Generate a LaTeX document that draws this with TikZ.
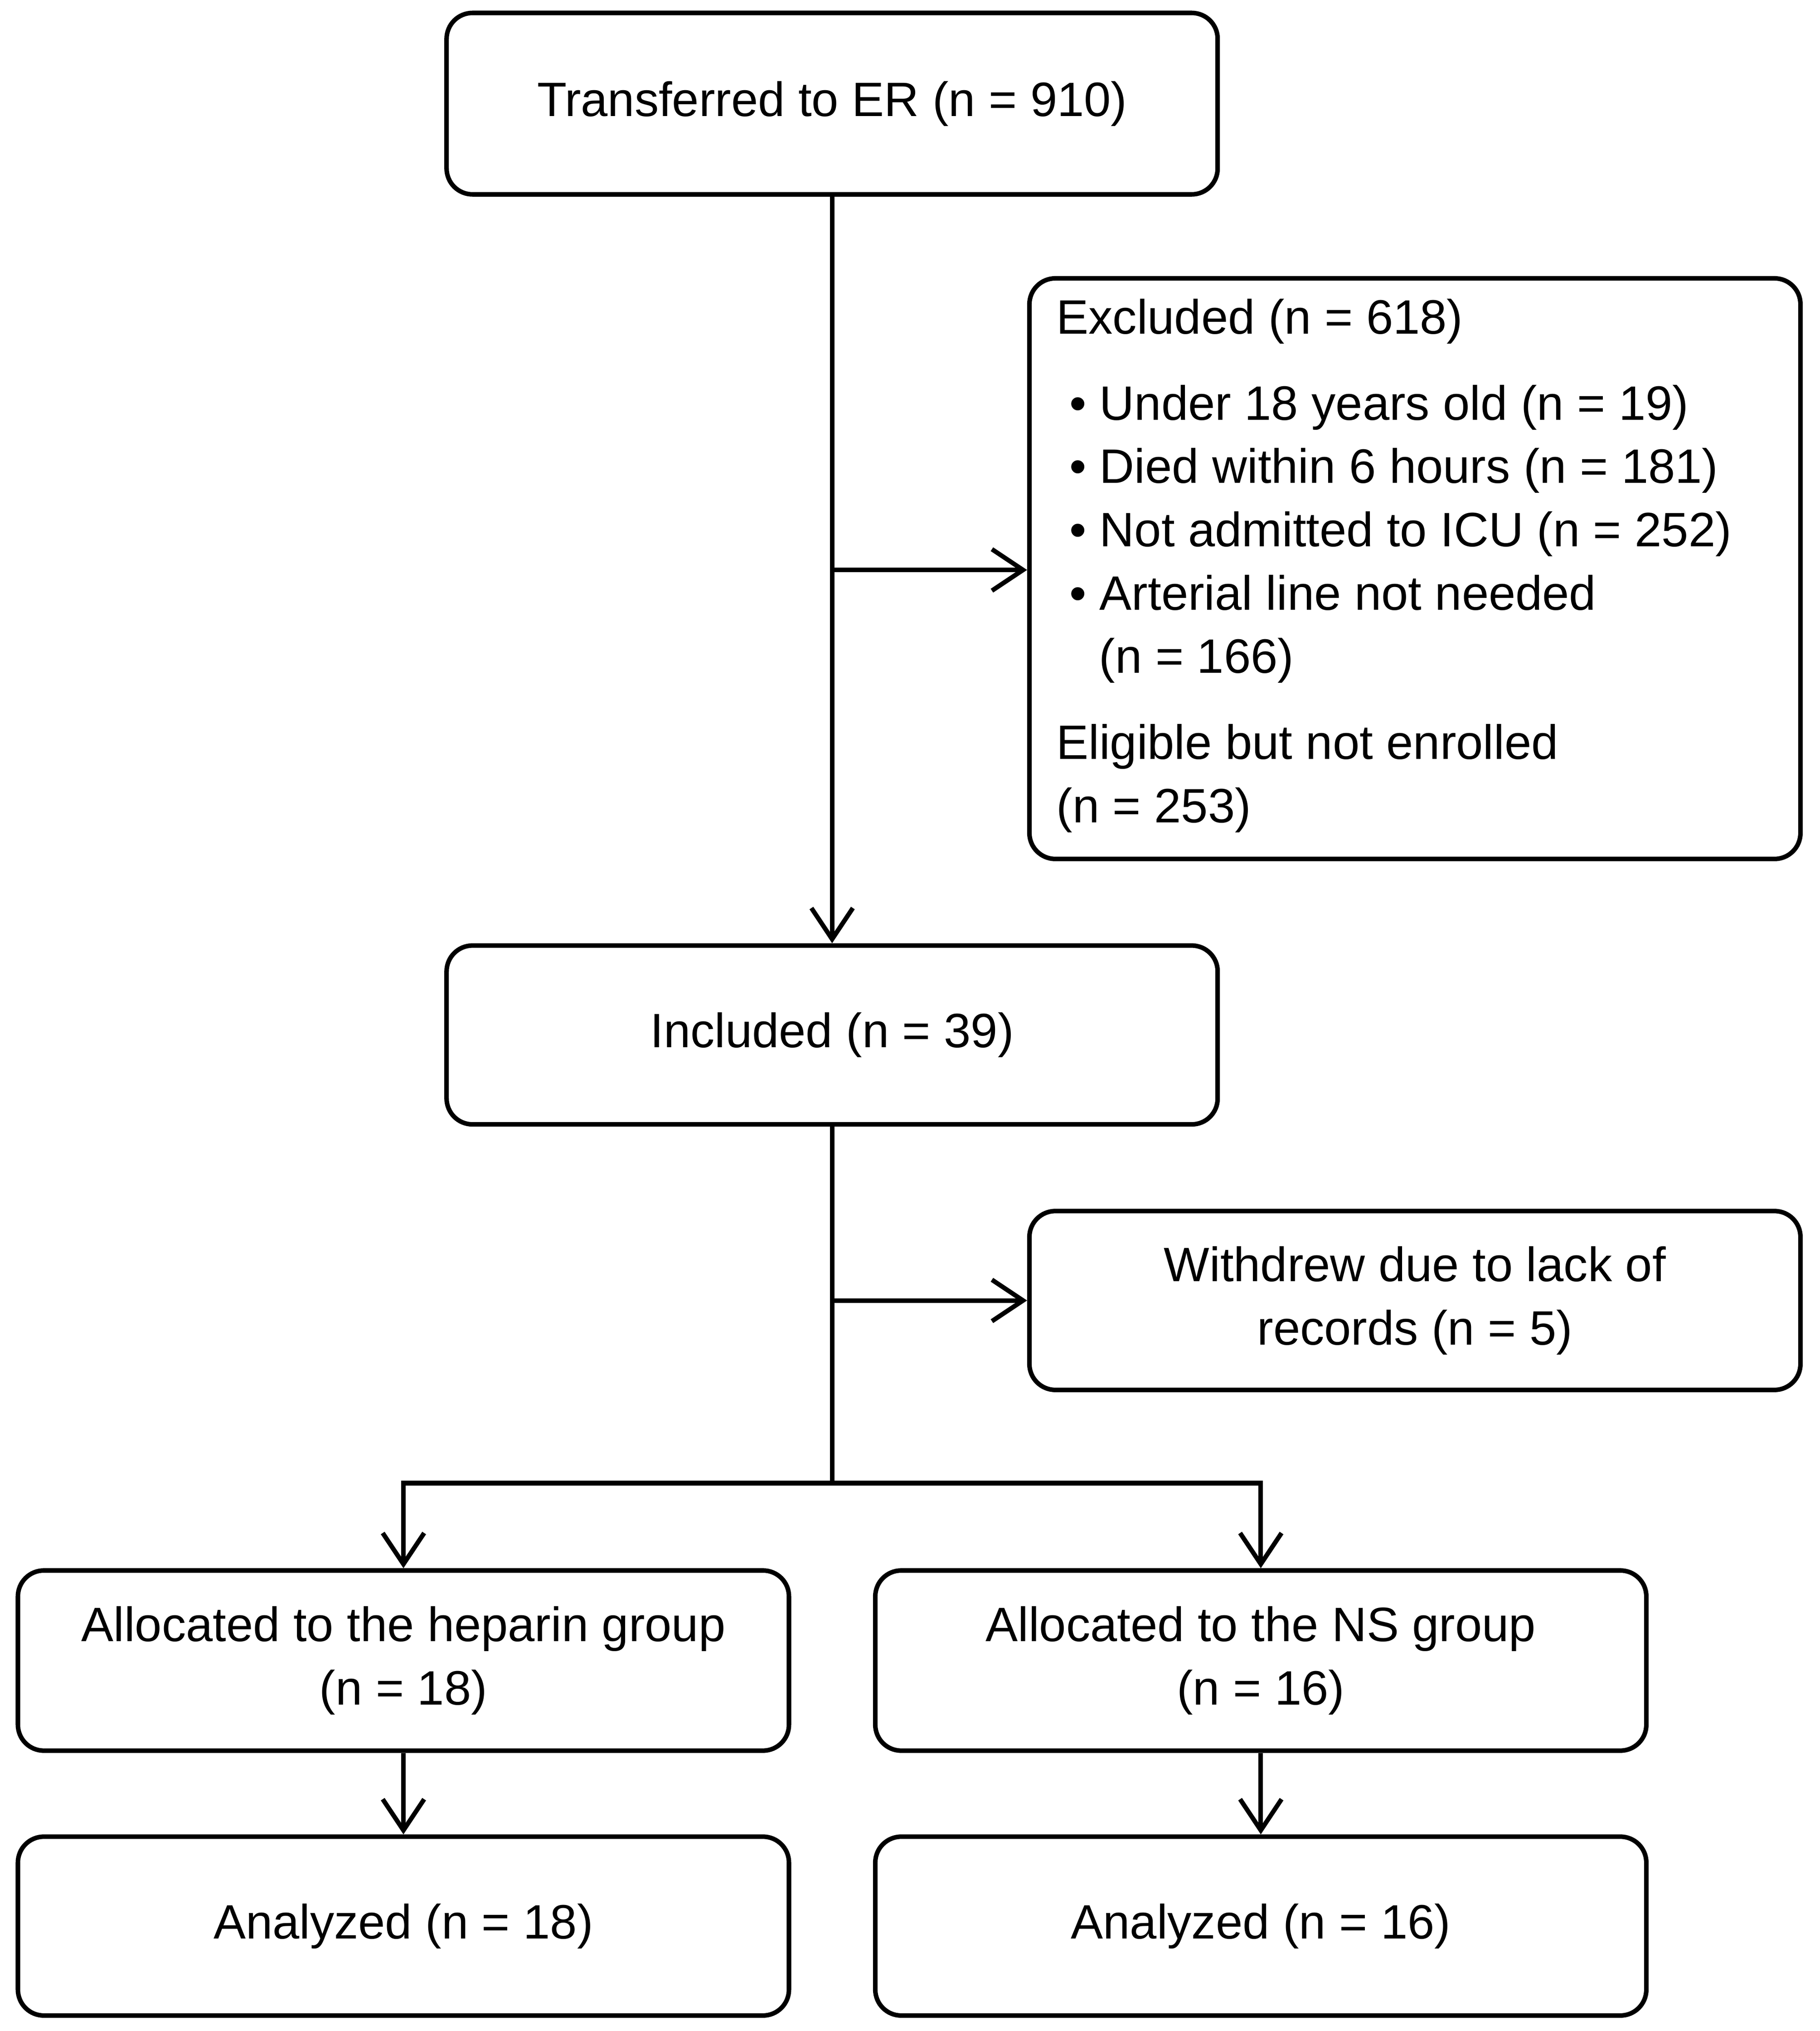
\documentclass[tikz,border=0pt]{standalone}
\usepackage{fontspec}
\setmainfont{Liberation Sans}
\usetikzlibrary{positioning,arrows.meta}

\begin{document}
\begin{tikzpicture}[x=0.01cm,y=-0.01cm,
    every node/.style={font=\fontsize{10.6}{13.9}\selectfont},
    flowbox/.style={draw,line width=1pt,rounded corners=0.2cm,minimum width=5.95cm,align=center,inner sep=0pt},
    link/.style={line width=1pt,-{Straight Barb[length=2.4mm,width=3.2mm]}}]
    \useasboundingbox (0,0) rectangle (1405,1568);

    % Main column
    \node[flowbox,minimum height=1.4cm] (er) at (642.5,80) {Transferred to ER (n = 910)};
    \node[flowbox,minimum height=1.38cm] (inc) at (642.5,799) {Included (n = 39)};

    % Side boxes
    \node[flowbox,minimum height=4.48cm] (exc) at (1092.5,439) {};
    \node[anchor=north west,align=left,inner sep=0pt] (exctxt) at (815,230)
        {Excluded (n = 618)\\[5pt]
         \hspace*{0.1cm}\textbullet\ Under 18 years old (n = 19)\\
         \hspace*{0.1cm}\textbullet\ Died within 6 hours (n = 181)\\
         \hspace*{0.1cm}\textbullet\ Not admitted to ICU (n = 252)\\
         \hspace*{0.1cm}\textbullet\ Arterial line not needed\\
         \hspace*{0.33cm}(n = 166)\\[5pt]
         Eligible but not enrolled\\
         (n = 253)};
    \node[flowbox,minimum height=1.38cm] (wd) at (1092.5,1004) {Withdrew due to lack of\\records (n = 5)};

    % Groups
    \node[flowbox,minimum height=1.39cm] (hep) at (311.5,1282) {Allocated to the heparin group\\(n = 18)};
    \node[flowbox,minimum height=1.39cm] (ns) at (973.5,1282) {Allocated to the NS group\\(n = 16)};
    \node[flowbox,minimum height=1.38cm] (anh) at (311.5,1487) {Analyzed (n = 18)};
    \node[flowbox,minimum height=1.38cm] (ann) at (973.5,1487) {Analyzed (n = 16)};

    % Connectors
    \coordinate (j1) at (er.south |- 0,440);
    \coordinate (j2) at (er.south |- 0,1004);
    \coordinate (split) at (inc.south |- 0,1145);
    \draw[link] (er.south) -- (inc.north);
    \draw[link] (j1) -- (exc.west |- j1);
    \draw[line width=1pt] (inc.south) -- (split);
    \draw[link] (j2) -- (wd.west);
    \draw[link] (split) -| (hep.north);
    \draw[link] (split) -| (ns.north);
    \draw[link] (hep) -- (anh);
    \draw[link] (ns) -- (ann);
\end{tikzpicture}
\end{document}
